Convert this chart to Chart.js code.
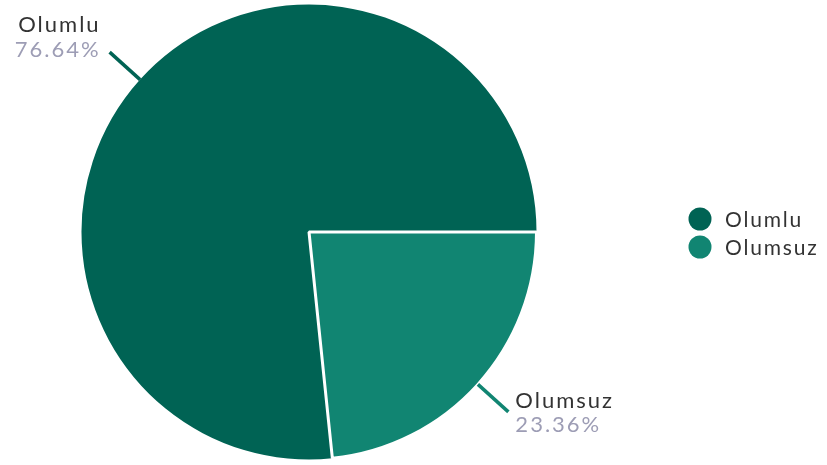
<!DOCTYPE html>
<html>
<head>
<meta charset="utf-8">
<script src="https://cdn.jsdelivr.net/npm/chart.js"></script>
<style>
  html, body { margin: 0; padding: 0; background: #fff; }
</style>
</head>
<body>
<canvas id="pieChart" width="827" height="465"></canvas>
<script>
const labels = ['Olumlu', 'Olumsuz'];
const values = [76.64, 23.36];
const colors = ['#006354', '#118572'];

const FONT = 'Lato, "Noto Sans", sans-serif';

// outside labels with leader lines
const outLabels = {
  id: 'outLabels',
  afterDatasetsDraw(chart) {
    const ctx = chart.ctx;
    const meta = chart.getDatasetMeta(0);
    meta.data.forEach((arc, i) => {
      const mid = (arc.startAngle + arc.endAngle) / 2;
      const r = arc.outerRadius;
      const cos = Math.cos(mid), sin = Math.sin(mid);
      const x1 = arc.x + cos * r, y1 = arc.y + sin * r;
      const x2 = arc.x + cos * (r + 41), y2 = arc.y + sin * (r + 41);
      ctx.save();
      ctx.strokeStyle = colors[i];
      ctx.lineWidth = 3.5;
      ctx.beginPath();
      ctx.moveTo(x1, y1);
      ctx.lineTo(x2, y2);
      ctx.stroke();

      const right = cos > 0;
      ctx.textAlign = right ? 'left' : 'right';
      ctx.textBaseline = 'alphabetic';
      const tx = right ? x2 + 7 : x2 - 9;
      let nameY, pctY;
      if (sin < 0) { pctY = y2 + 5; nameY = pctY - 25; }
      else { nameY = y2 - 4; pctY = nameY + 24; }
      ctx.letterSpacing = '2px';
      ctx.font = '22px ' + FONT;
      ctx.fillStyle = '#333333';
      ctx.fillText(labels[i], tx, nameY);
      ctx.fillStyle = '#9d9db5';
      ctx.fillText(values[i].toFixed(2) + '%', tx, pctY);
      ctx.restore();
    });
  }
};

// legend on the right
const sideLegend = {
  id: 'sideLegend',
  afterDraw(chart) {
    const ctx = chart.ctx;
    ctx.save();
    labels.forEach((l, i) => {
      const y = 219 + i * 28;
      ctx.fillStyle = colors[i];
      ctx.beginPath();
      ctx.arc(700, y, 11.5, 0, Math.PI * 2);
      ctx.fill();
      ctx.letterSpacing = '1.8px';
      ctx.font = '21px ' + FONT;
      ctx.fillStyle = '#333333';
      ctx.textAlign = 'left';
      ctx.textBaseline = 'middle';
      ctx.fillText(l, 725, y + 1);
    });
    ctx.restore();
  }
};

new Chart(document.getElementById('pieChart'), {
  type: 'pie',
  data: {
    labels: labels,
    datasets: [{
      data: values,
      backgroundColor: colors,
      borderColor: '#ffffff',
      borderWidth: [0, 3],
      hoverOffset: 0
    }]
  },
  options: {
    responsive: false,
    animation: false,
    rotation: 174.1,
    layout: { padding: { left: 80, right: 289, top: 3, bottom: 4 } },
    plugins: {
      legend: { display: false },
      tooltip: { enabled: false }
    }
  },
  plugins: [outLabels, sideLegend]
});
</script>
</body>
</html>
